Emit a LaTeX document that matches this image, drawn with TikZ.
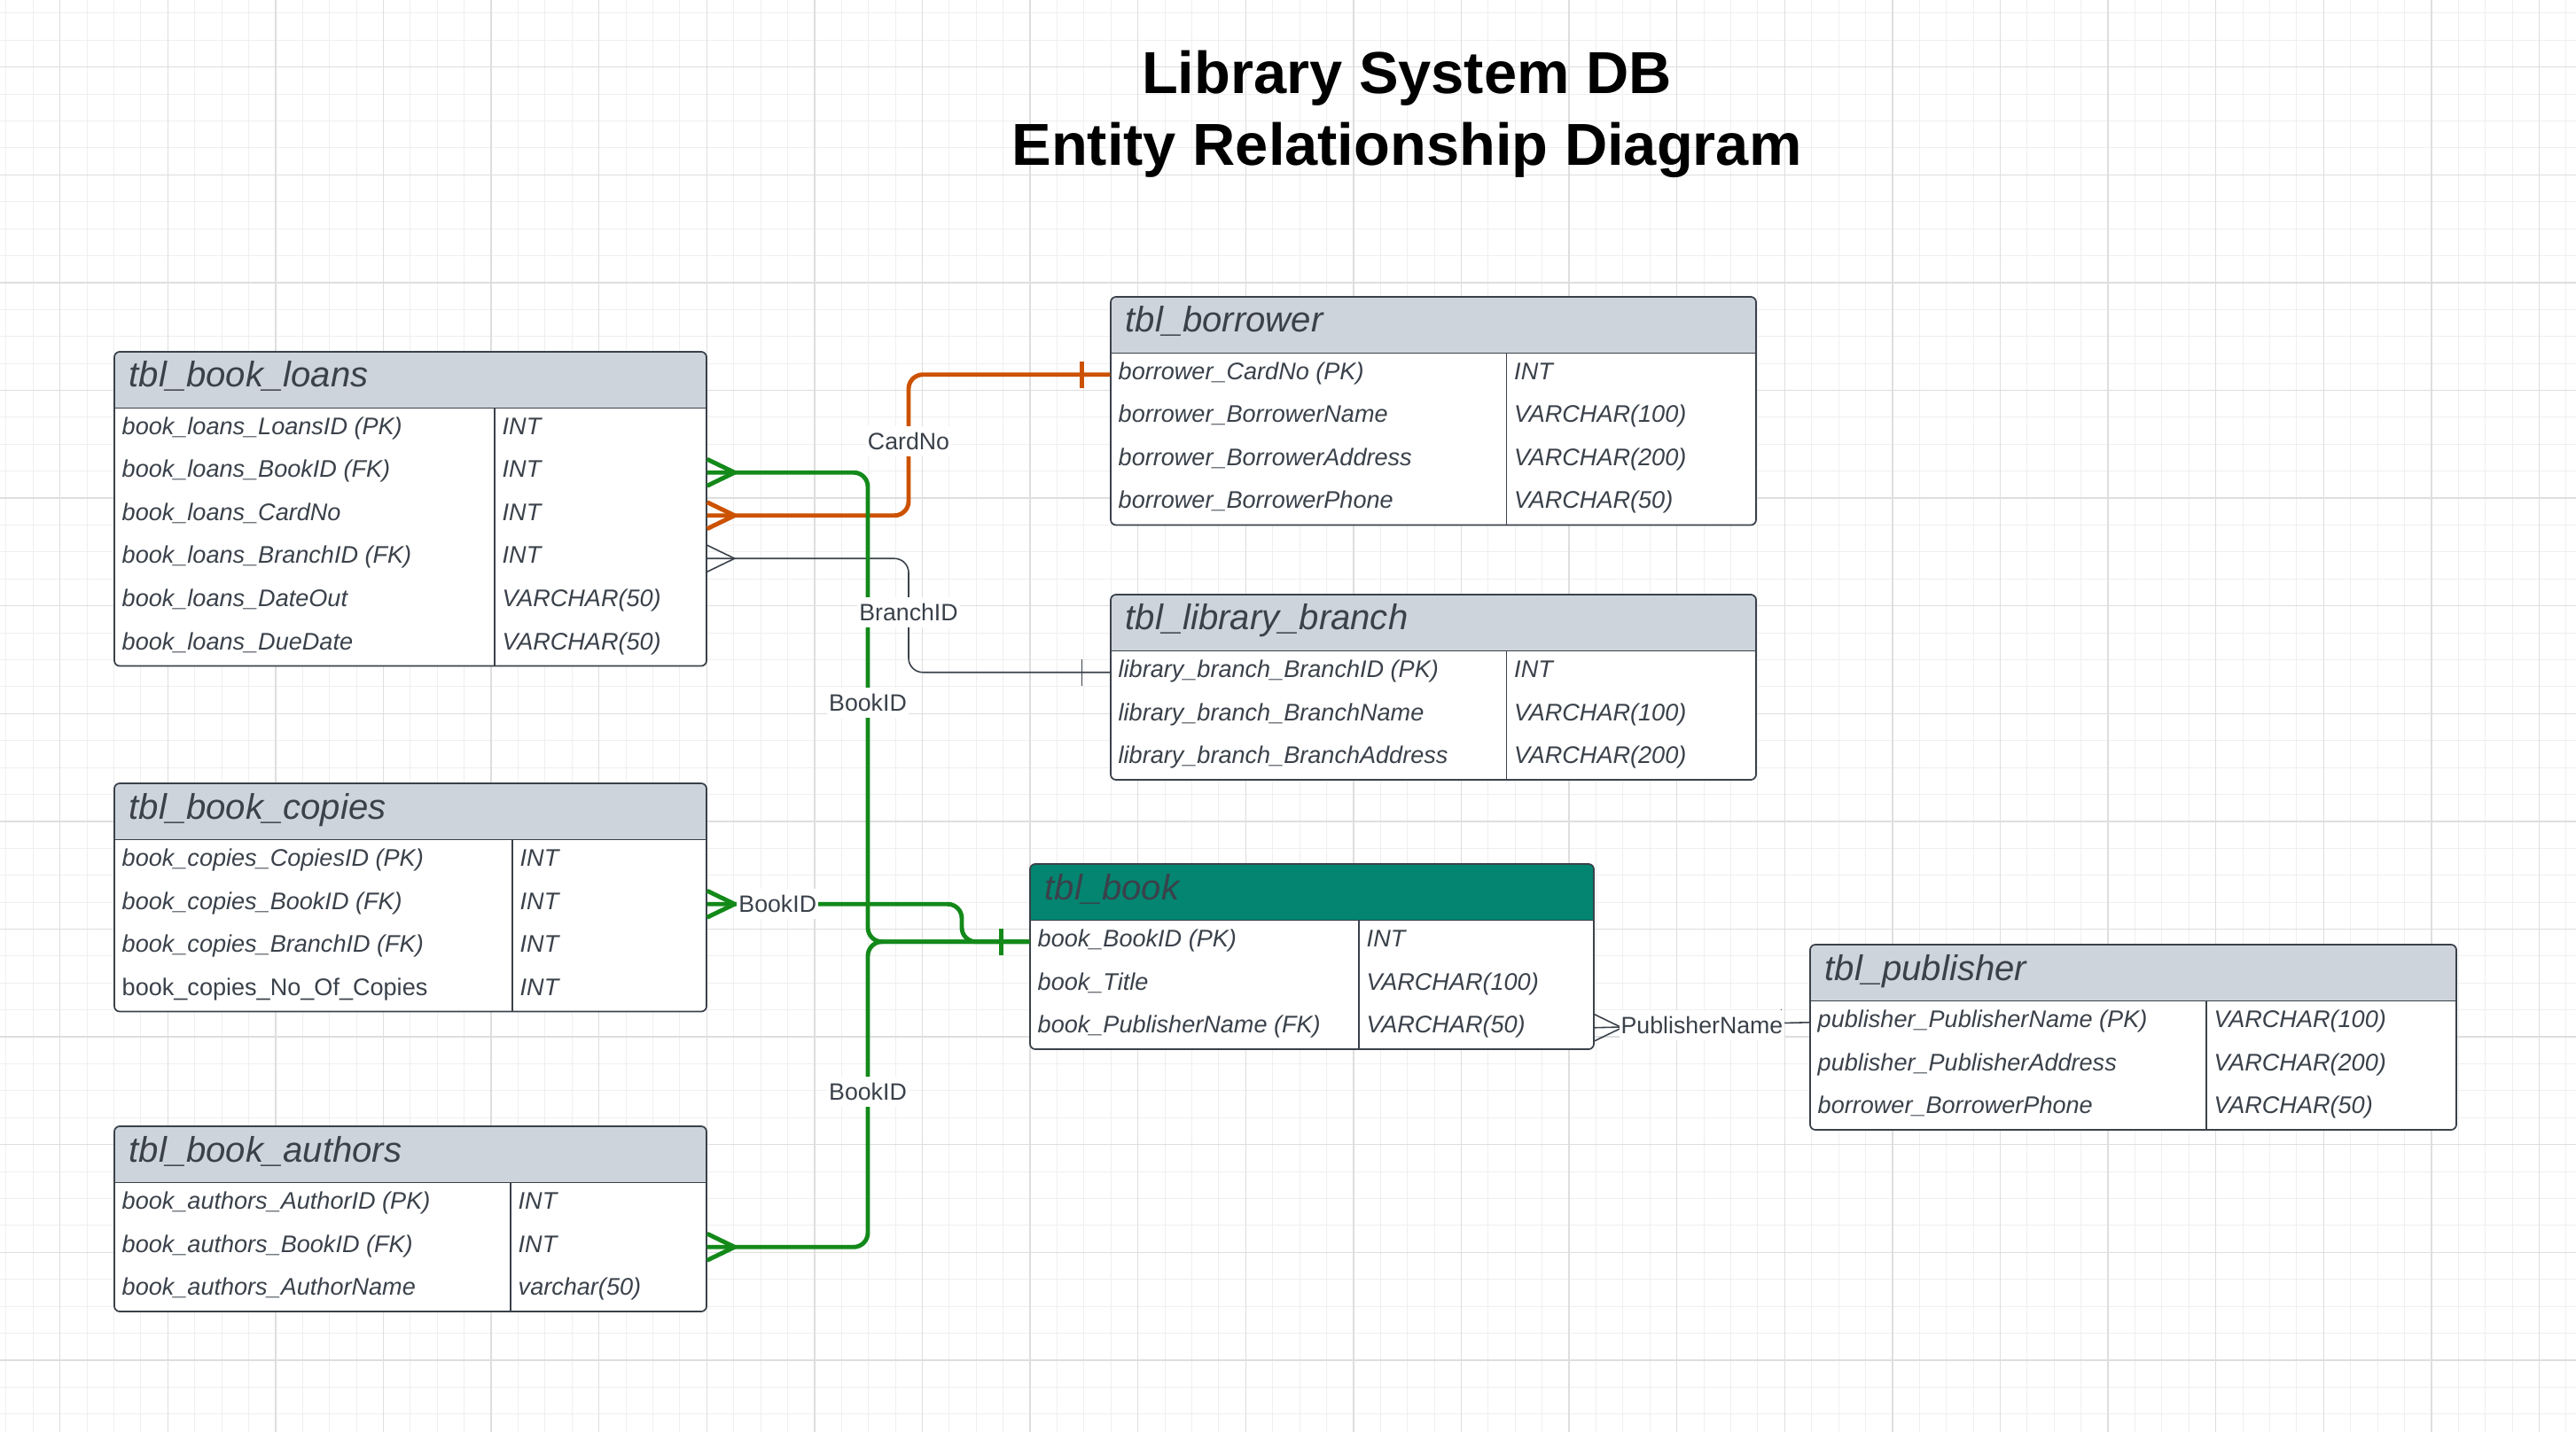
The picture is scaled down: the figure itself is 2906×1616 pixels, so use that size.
\documentclass[tikz,border=0pt]{standalone}
\usepackage{fontspec}
\setmainfont{Liberation Sans}
\usetikzlibrary{positioning,calc}
\definecolor{hdrgray}{HTML}{CED4DB}
\definecolor{hdrteal}{HTML}{038571}
\definecolor{inkgray}{HTML}{3A414A}
\definecolor{gridminor}{HTML}{EFEFEF}
\definecolor{gridmajor}{HTML}{DEDEDE}
\definecolor{relgreen}{HTML}{13891A}
\definecolor{relorange}{HTML}{CC5200}
\tikzset{
  tblframe/.style = {draw=inkgray, line width=0.5pt},
  rowcell/.style = {inner sep=0, minimum height=0.485cm},
  fieldtxt/.style = {inner sep=0, text=inkgray, font=\fontsize{7.7}{9}\selectfont\itshape},
  headtxt/.style = {inner sep=0, text=inkgray, font=\fontsize{11.4}{13}\selectfont\itshape},
  titlefont/.style = {inner sep=0, text=black, font=\fontsize{19}{22}\selectfont\bfseries},
  rellabel/.style = {fill=white, inner xsep=0.02cm, inner ysep=0.07cm, text=inkgray, font=\fontsize{7.6}{9}\selectfont},
  greenrel/.style = {draw=relgreen, line width=1.4pt},
  orangerel/.style = {draw=relorange, line width=1.4pt},
  greyrel/.style = {draw=inkgray, line width=0.45pt},
  elbow/.style = {rounded corners=0.16cm}
}
% #1 name, #2 left, #3 top, #4 width, #5 column, #6 header colour, #7 title, #8 rows, #9 fields
\newcommand{\erTable}[9]{%
  \fill[white, rounded corners=0.06cm] (#2,#3) rectangle ++(#4,63.5+48.5*#8);
  \begin{scope}
    \clip[rounded corners=0.06cm] (#2,#3) rectangle ++(#4,63.5+48.5*#8);
    \fill[#6] (#2,#3) rectangle ++(#4,63.5);
  \end{scope}
  \draw[tblframe, rounded corners=0.06cm] (#2,#3) rectangle ++(#4,63.5+48.5*#8);
  \draw[tblframe] (#2,#3+63.5) -- ++(#4,0);
  \draw[tblframe] (#2+#5,#3+63.5) -- ++(0,48.5*#8);
  \node[headtxt, anchor=base west] (#1-h) at (#2+16,#3+40) {#7};
  \foreach \fld/\typ [count=\rw] in {#9} {
    \node[rowcell, minimum width=#4*0.01cm] (#1-\rw) at (#2+#4/2,#3+39.25+48.5*\rw) {};
    \node[fieldtxt, anchor=base west] at (#2+8,#3+45+48.5*\rw) {\fld};
    \node[fieldtxt, anchor=base west] at (#2+#5+8,#3+45+48.5*\rw) {\typ};
  }%
}
\newcommand{\crowfoot}[2]{\draw[#1] ($(#2)+(0,-15)$) -- ($(#2)+(31,0)$) -- ($(#2)+(0,15)$);}
\newcommand{\onebar}[2]{\draw[#1] ($(#2)+(-32,-15)$) -- ($(#2)+(-32,15)$);}

\begin{document}
\begin{tikzpicture}[x=0.01cm, y=-0.01cm]
  \useasboundingbox (0,0) rectangle (2906,1616);
  \fill[white] (0,0) rectangle (2906,1616);
  % background grid
  \foreach \i in {0,...,95} \draw[gridminor, line width=0.3pt] (6.9+30.4*\i,0) -- (6.9+30.4*\i,1616);
  \foreach \j in {0,...,52} \draw[gridminor, line width=0.3pt] (0,14.9+30.4*\j) -- (2906,14.9+30.4*\j);
  \foreach \i in {2,6,...,94} \draw[gridmajor, line width=0.4pt] (6.9+30.4*\i,0) -- (6.9+30.4*\i,1616);
  \foreach \j in {2,6,...,50} \draw[gridmajor, line width=0.4pt] (0,14.9+30.4*\j) -- (2906,14.9+30.4*\j);

  \node[titlefont, anchor=base] (title-a) at (1587,106) {Library System DB};
  \node[titlefont, anchor=base] (title-b) at (1587,186.7) {Entity Relationship Diagram};

  % tables
  \erTable{loans}{129}{397}{668}{429}{hdrgray}{tbl\_book\_loans}{6}{%
    book\_loans\_LoansID (PK)/INT,%
    book\_loans\_BookID (FK)/INT,%
    book\_loans\_CardNo/INT,%
    book\_loans\_BranchID (FK)/INT,%
    book\_loans\_DateOut/VARCHAR(50),%
    book\_loans\_DueDate/VARCHAR(50)}
  \erTable{copies}{129}{884}{668}{449}{hdrgray}{tbl\_book\_copies}{4}{%
    book\_copies\_CopiesID (PK)/INT,%
    book\_copies\_BookID (FK)/INT,%
    book\_copies\_BranchID (FK)/INT,%
    {\upshape book\_copies\_No\_Of\_Copies}/INT}
  \erTable{authors}{129}{1271}{668}{447}{hdrgray}{tbl\_book\_authors}{3}{%
    book\_authors\_AuthorID (PK)/INT,%
    book\_authors\_BookID (FK)/INT,%
    book\_authors\_AuthorName/varchar(50)}
  \erTable{borrower}{1253}{335}{728}{446.5}{hdrgray}{tbl\_borrower}{4}{%
    borrower\_CardNo (PK)/INT,%
    borrower\_BorrowerName/VARCHAR(100),%
    borrower\_BorrowerAddress/VARCHAR(200),%
    borrower\_BorrowerPhone/VARCHAR(50)}
  \erTable{branch}{1253}{671}{728}{446.5}{hdrgray}{tbl\_library\_branch}{3}{%
    library\_branch\_BranchID (PK)/INT,%
    library\_branch\_BranchName/VARCHAR(100),%
    library\_branch\_BranchAddress/VARCHAR(200)}
  \erTable{book}{1162}{975}{636}{371}{hdrteal}{tbl\_book}{3}{%
    book\_BookID (PK)/INT,%
    book\_Title/VARCHAR(100),%
    book\_PublisherName (FK)/VARCHAR(50)}
  \erTable{pub}{2042}{1066}{729}{447}{hdrgray}{tbl\_publisher}{3}{%
    publisher\_PublisherName (PK)/VARCHAR(100),%
    publisher\_PublisherAddress/VARCHAR(200),%
    borrower\_BorrowerPhone/VARCHAR(50)}

  % relationships
  \coordinate (cardbus) at (1025,0);
  \coordinate (bookbus) at (979,0);
  \coordinate (copyjog) at (1085,0);
  \draw[greyrel, elbow] (loans-4.east) -| (cardbus |- branch-1.west) -- (branch-1.west);
  \draw[greyrel] (book-3.east) -- (pub-1.west);
  \draw[orangerel, elbow] (loans-3.east) -| (cardbus |- borrower-1.west) -- (borrower-1.west);
  \draw[greenrel, elbow] (loans-2.east) -| (bookbus |- book-1.west) -- (book-1.west);
  \draw[greenrel, elbow] (authors-2.east) -| (bookbus |- book-1.west) -- (book-1.west);
  \draw[greenrel, elbow] (copies-2.east) -| (copyjog |- book-1.west) -- (book-1.west);

  \crowfoot{greyrel}{loans-4.east}
  \crowfoot{greyrel}{book-3.east}
  \crowfoot{orangerel}{loans-3.east}
  \crowfoot{greenrel}{loans-2.east}
  \crowfoot{greenrel}{copies-2.east}
  \crowfoot{greenrel}{authors-2.east}
  \onebar{greyrel}{branch-1.west}
  \onebar{greyrel}{pub-1.west}
  \onebar{orangerel}{borrower-1.west}
  \onebar{greenrel}{book-1.west}

  \node[rellabel] (lbl-card) at (1025,498) {CardNo};
  \node[rellabel] (lbl-branch) at (1025,691) {BranchID};
  \node[rellabel] (lbl-loanbook) at (979,793) {BookID};
  \node[rellabel] (lbl-authbook) at (979,1232) {BookID};
  \node[rellabel, right=0.33cm of copies-2.east] (lbl-copybook) {BookID};
  \node[rellabel] (lbl-pub) at ($(book-3.east)!0.5!(pub-1.west)$) {PublisherName};
\end{tikzpicture}
\end{document}
